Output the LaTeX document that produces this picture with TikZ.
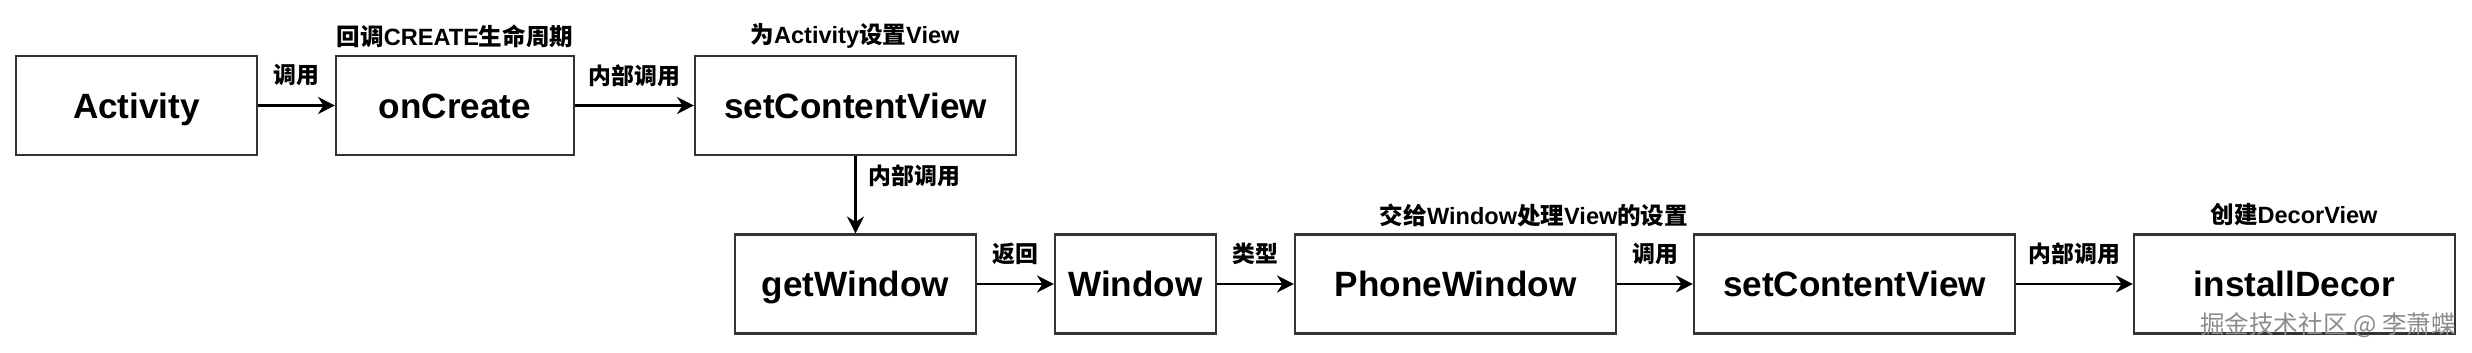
\documentclass[tikz,border=0pt]{standalone}
\usepackage{fontspec}
\usepackage{tikz}
\usetikzlibrary{arrows.meta,positioning}
\setmainfont{Liberation Sans}
\newfontfamily\cjk{Noto Sans CJK SC}
\definecolor{boxline}{HTML}{333333}
\definecolor{markgray}{HTML}{8C8C8C}
\newcommand{\zh}[1]{{\cjk #1}}

\begin{document}
\begin{tikzpicture}[
  every node/.style={inner sep=0pt},
  callbox/.style={rectangle,draw=boxline,line width=1.2pt,fill=white,minimum height=1.98cm,text height=14.4pt,text depth=0pt,font=\fontsize{20}{24}\selectfont\bfseries},
  note/.style={font=\fontsize{13.4}{16}\selectfont\bfseries},
  elabel/.style={font=\fontsize{13}{16}\selectfont\bfseries},
  arrow/.style={-{Stealth[length=0.34cm,width=0.34cm]},line width=1.2pt,color=black}
]
\useasboundingbox (0,0) rectangle (49.44,-7.04);

\node[callbox,minimum width=4.82cm] (activity) at (2.73,-2.11) {Activity};
\node[callbox,minimum width=4.76cm] (oncreate) at (9.10,-2.11) {onCreate};
\node[callbox,minimum width=6.42cm] (setview) at (17.11,-2.11) {setContentView};

\node[callbox,minimum width=4.82cm] (getwindow) at (17.11,-5.68) {getWindow};
\node[callbox,minimum width=3.22cm] (window) at (22.71,-5.68) {Window};
\node[callbox,minimum width=6.42cm] (phonewindow) at (29.11,-5.68) {PhoneWindow};
\node[callbox,minimum width=6.42cm] (phoneview) at (37.09,-5.68) {setContentView};
\node[callbox,minimum width=6.42cm] (decor) at (45.89,-5.68) {installDecor};

\node[note] (oncreatenote) at (9.10,-0.72) {\zh{回调}CREATE\zh{生命周期}};
\node[note] (setviewnote) at (17.10,-0.72) {\zh{为}Activity\zh{设置}View};
\node[note] (phonenote) at (30.68,-4.30) {\zh{交给}Window\zh{处理}View\zh{的设置}};
\node[note] (decornote) at (45.88,-4.30) {\zh{创建}DecorView};

\draw[arrow] (activity) -- (oncreate) node[elabel,midway,yshift=0.6cm] {\zh{调用}};
\draw[arrow] (oncreate) -- (setview) node[elabel,midway,yshift=0.6cm] {\zh{内部调用}};
\draw[arrow] (setview) -- (getwindow) node[elabel,pos=0.25,anchor=west,xshift=0.24cm] {\zh{内部调用}};
\draw[arrow] (getwindow) -- (window) node[elabel,midway,yshift=0.6cm] {\zh{返回}};
\draw[arrow] (window) -- (phonewindow) node[elabel,midway,yshift=0.6cm] {\zh{类型}};
\draw[arrow] (phonewindow) -- (phoneview) node[elabel,midway,yshift=0.6cm] {\zh{调用}};
\draw[arrow] (phoneview) -- (decor) node[elabel,midway,yshift=0.6cm] {\zh{内部调用}};

\node[font=\fontsize{14}{16}\selectfont\cjk,text=markgray] (mark) at (46.56,-6.50) {掘金技术社区 @ 李萧蝶};
\end{tikzpicture}
\end{document}
